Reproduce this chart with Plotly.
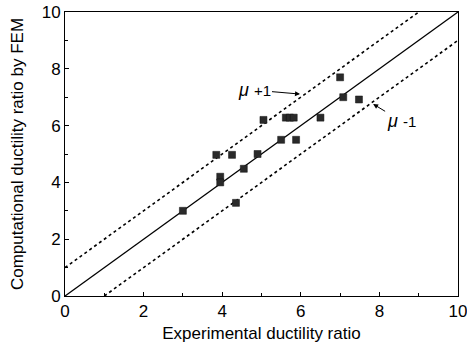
import plotly.graph_objects as go

# Data
exp_ratio = [3.0, 3.85, 3.95, 3.95, 4.25, 4.35, 4.55, 4.9, 5.05, 5.5, 5.62, 5.72, 5.82, 5.88, 6.5, 7.0, 7.08, 7.48]
fem_ratio = [3.0, 4.97, 4.2, 4.0, 4.97, 3.28, 4.48, 5.0, 6.2, 5.5, 6.28, 6.28, 6.28, 5.5, 6.28, 7.7, 7.0, 6.92]

mean_x = [0, 10]
mean_y = [0, 10]
upper_x = [0, 9]
upper_y = [1, 10]
lower_x = [1, 10]
lower_y = [0, 9]

tick_vals = [0, 2, 4, 6, 8, 10]
tick_text = ["0", "2", "4", "6", "8", "10"]

FONT = "Liberation Sans, Arial, Helvetica, sans-serif"

fig = go.Figure()
fig.add_trace(go.Scatter(x=mean_x, y=mean_y, mode="lines",
                         line=dict(color="black", width=1.3), showlegend=False))
fig.add_trace(go.Scatter(x=upper_x, y=upper_y, mode="lines",
                         line=dict(color="black", width=1.6, dash="dot"), showlegend=False))
fig.add_trace(go.Scatter(x=lower_x, y=lower_y, mode="lines",
                         line=dict(color="black", width=1.6, dash="dot"), showlegend=False))
fig.add_trace(go.Scatter(x=exp_ratio, y=fem_ratio, mode="markers",
                         marker=dict(symbol="square", size=7, color="#2a2a2a",
                                     line=dict(color="#111", width=0.5)),
                         showlegend=False))

fig.add_annotation(x=5.98, y=7.11, xref="x", yref="y",
                   text="<i>μ</i> <span style='font-size:15px'>+1</span>",
                   showarrow=True, ax=-46, ay=-4, arrowhead=2, arrowsize=1,
                   arrowwidth=1, arrowcolor="black",
                   font=dict(family=FONT, size=18, color="black"))
fig.add_annotation(x=7.84, y=6.76, xref="x", yref="y",
                   text="<i>μ</i> <span style='font-size:15px'>-1</span>",
                   showarrow=True, ax=28, ay=17, arrowhead=2, arrowsize=1,
                   arrowwidth=1, arrowcolor="black",
                   font=dict(family=FONT, size=18, color="black"))

axis_common = dict(
    showgrid=False, zeroline=False, showline=True, linecolor="black", linewidth=1,
    mirror=True, ticks="inside", ticklen=4, tickcolor="black",
    minor=dict(ticks="inside", ticklen=3, dtick=1, tickcolor="black"),
    tickvals=tick_vals, ticktext=tick_text, automargin=False,
    ticklabeloverflow="allow",
    tickfont=dict(family=FONT, size=17, color="black"),
)

fig.update_xaxes(range=[0, 10], title=dict(text="Experimental ductility ratio",
                 font=dict(family=FONT, size=17, color="black"), standoff=6),
                 **axis_common)
fig.update_yaxes(range=[0, 10], title=dict(text="Computational ductility ratio by FEM",
                 font=dict(family=FONT, size=17, color="black"), standoff=13),
                 **axis_common)

fig.update_layout(
    width=467, height=345,
    margin=dict(l=65, r=9, t=12, b=49),
    plot_bgcolor="white", paper_bgcolor="white",
)

fig.write_html("out.html")
